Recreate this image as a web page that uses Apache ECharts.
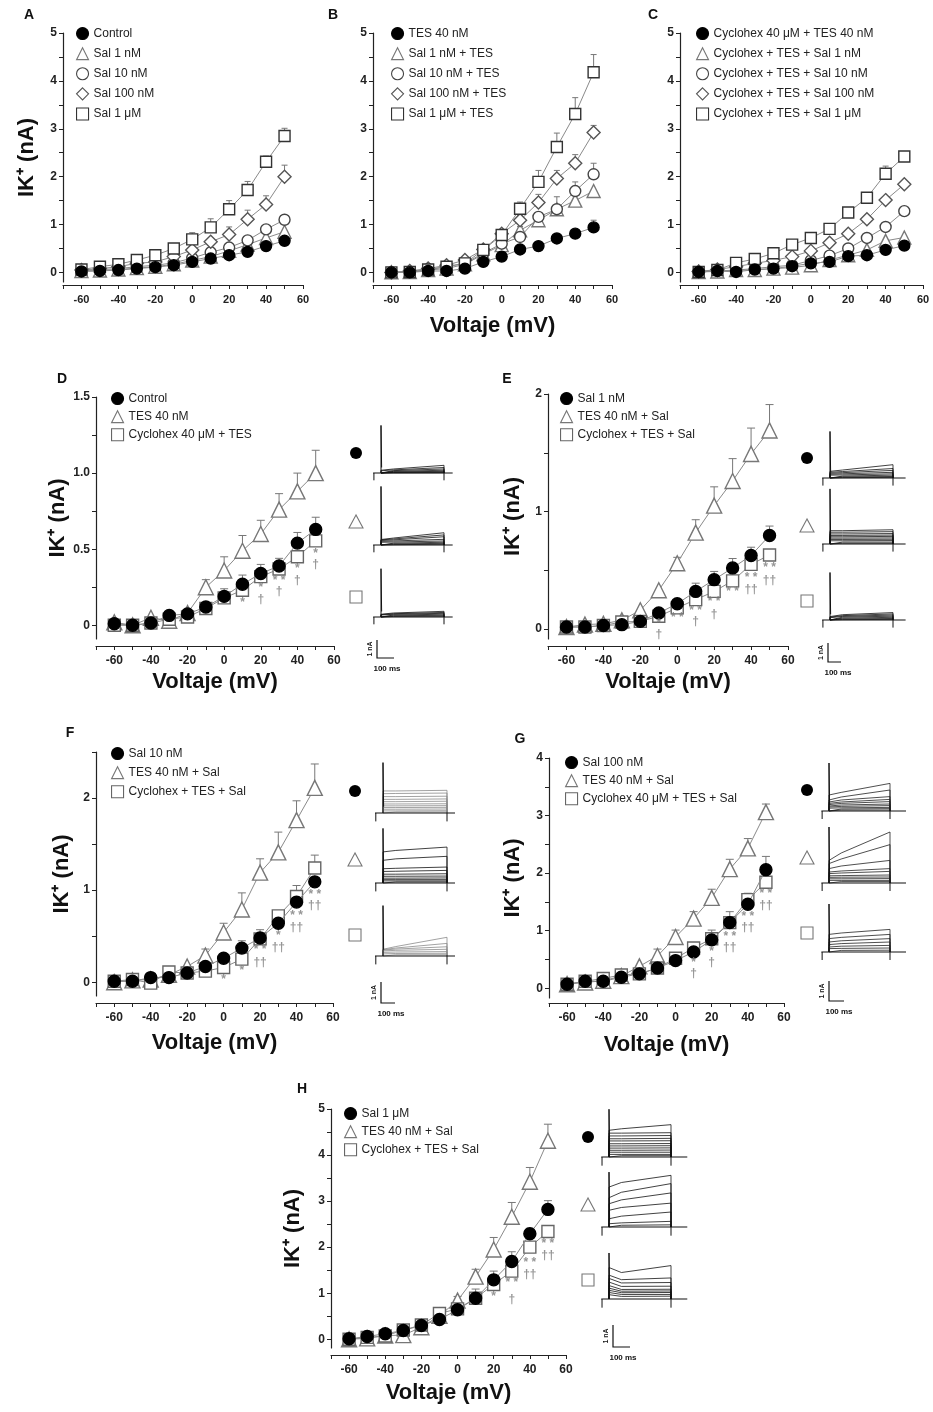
<!DOCTYPE html>
<html><head><meta charset="utf-8">
<script src="https://cdn.jsdelivr.net/npm/echarts@6/dist/echarts.min.js"></script>
<style>html,body{margin:0;padding:0;background:#fff}#c{width:933px;height:1412px}</style>
</head><body><div id="c"></div>
<script>
// ---------------- DATA ----------------
const VOLT = [-60,-50,-40,-30,-20,-10,0,10,20,30,40,50];
const X_TICKS = [-70,-60,-50,-40,-30,-20,-10,0,10,20,30,40,50,60];
const X_LABELS = [-60,-40,-20,0,20,40,60];

// Panel A
const A_control  = [0.02,0.03,0.05,0.08,0.11,0.15,0.22,0.29,0.36,0.43,0.55,0.66];
const A_sal1n    = [0.03,0.04,0.06,0.09,0.12,0.17,0.25,0.33,0.45,0.58,0.72,0.85];
const A_sal10n   = [0.04,0.06,0.08,0.12,0.15,0.20,0.30,0.42,0.52,0.67,0.90,1.10];
const A_sal100n  = [0.05,0.08,0.12,0.19,0.22,0.33,0.47,0.64,0.79,1.11,1.42,2.00];
const A_sal1u    = [0.06,0.12,0.17,0.26,0.36,0.50,0.69,0.94,1.32,1.72,2.31,2.85];
const A_err_sal100n = [0,0,0,0,0,0.04,0.05,0.06,0.16,0.19,0.18,0.24];
const A_err_sal1u   = [0,0,0,0,0.03,0.05,0.14,0.18,0.18,0.18,0.12,0.16];

// Panel B
const B_tes      = [0.00,0.00,0.03,0.03,0.08,0.22,0.33,0.48,0.55,0.71,0.81,0.94];
const B_sal1n    = [0.00,0.01,0.05,0.08,0.17,0.38,0.57,0.88,1.09,1.32,1.50,1.70];
const B_sal10n   = [0.00,0.01,0.06,0.12,0.19,0.40,0.60,0.74,1.16,1.32,1.70,2.05];
const B_sal100n  = [0.00,0.03,0.08,0.15,0.26,0.48,0.81,1.09,1.46,1.96,2.28,2.92];
const B_sal1u    = [0.00,0.01,0.06,0.12,0.19,0.47,0.78,1.33,1.89,2.62,3.31,4.18];
const B_err_tes     = [0,0,0,0,0,0,0,0,0,0,0,0.15];
const B_err_sal1n   = [0,0,0,0,0,0,0,0.08,0.1,0.26,0,0];
const B_err_sal10n  = [0,0,0,0,0,0,0,0,0,0,0.19,0.23];
const B_err_sal100n = [0,0,0,0,0,0,0,0.1,0.17,0.17,0.18,0.15];
const B_err_sal1u   = [0,0,0,0,0,0,0,0.14,0.24,0.29,0.34,0.37];

// Panel C
const C_ctes     = [0.01,0.03,0.01,0.06,0.08,0.13,0.19,0.22,0.34,0.36,0.47,0.56];
const C_sal1n    = [0.01,0.02,0.05,0.05,0.08,0.10,0.15,0.26,0.36,0.47,0.66,0.73];
const C_sal10n   = [0.01,0.03,0.05,0.08,0.12,0.15,0.25,0.35,0.50,0.72,0.95,1.28];
const C_sal100n  = [0.02,0.06,0.12,0.19,0.25,0.33,0.45,0.62,0.81,1.11,1.51,1.84];
const C_sal1u    = [0.01,0.05,0.20,0.28,0.40,0.58,0.72,0.91,1.25,1.56,2.06,2.42];
const C_err_sal1u = [0,0,0,0,0,0,0,0,0,0,0.16,0];

// Panel D
const D_control = [0.01,0.00,0.015,0.065,0.075,0.12,0.19,0.27,0.34,0.39,0.54,0.63];
const D_tes     = [0.02,0.00,0.05,0.03,0.08,0.25,0.36,0.49,0.60,0.76,0.88,1.00];
const D_cyc     = [0.00,0.00,0.015,0.04,0.055,0.11,0.18,0.23,0.32,0.37,0.45,0.555];
const D_err_control = [0,0,0,0,0,0.03,0.05,0.06,0.06,0.05,0.07,0.08];
const D_err_tes     = [0,0,0,0,0,0.05,0.09,0.10,0.09,0.105,0.12,0.15];
const D_ann = [[10,0.15,'*'],[20,0.245,'*'],[20,0.168,'†'],[30,0.294,'* *'],[30,0.218,'†'],[40,0.37,'*'],[40,0.29,'†'],[50,0.47,'*'],[50,0.40,'†']];

// Panel E
const E_sal = [0.017,0.017,0.03,0.037,0.065,0.136,0.215,0.32,0.42,0.52,0.626,0.796];
const E_tes = [0.017,0.037,0.045,0.074,0.16,0.33,0.56,0.82,1.05,1.26,1.49,1.69];
const E_cyc = [0.017,0.017,0.03,0.06,0.065,0.108,0.18,0.25,0.32,0.41,0.55,0.63];
const E_err_sal = [0,0,0,0,0,0,0,0.07,0.07,0.08,0.07,0.08];
const E_err_tes = [0,0,0,0,0,0,0.05,0.11,0.16,0.19,0.22,0.22];
const E_ann = [[-10,0.045,'*'],[-10,-0.048,'†'],[0,0.093,'* *'],[10,0.159,'* *'],[10,0.06,'†'],[20,0.23,'* *'],[20,0.12,'†'],[30,0.32,'* *'],[40,0.433,'* *'],[40,0.334,'††'],[50,0.518,'* *'],[50,0.414,'††']];

// Panel F
const F_sal = [0.01,0.01,0.05,0.05,0.10,0.17,0.26,0.37,0.48,0.64,0.87,1.09];
const F_tes = [0.00,0.02,0.03,0.08,0.17,0.29,0.54,0.79,1.19,1.41,1.76,2.11];
const F_cyc = [0.01,0.03,-0.01,0.11,0.10,0.12,0.16,0.25,0.47,0.72,0.93,1.24];
const F_err_sal = [0,0,0,0,0,0,0.05,0.08,0.09,0,0,0];
const F_err_tes = [0,0,0,0,0,0.07,0.10,0.18,0.15,0.22,0.21,0.26];
const F_err_cyc = [0,0,0,0,0,0,0,0,0,0,0.12,0.14];
const F_ann = [[0,0.03,'*'],[10,0.12,'*'],[20,0.35,'* *'],[20,0.21,'††'],[30,0.50,'*'],[30,0.373,'††'],[40,0.717,'* *'],[40,0.59,'††'],[50,0.953,'* *'],[50,0.826,'††']];

// Panel G
const G_sal = [0.07,0.12,0.12,0.19,0.25,0.35,0.48,0.63,0.84,1.14,1.46,2.06];
const G_tes = [0.07,0.10,0.13,0.21,0.38,0.56,0.89,1.21,1.57,2.07,2.43,3.06];
const G_cyc = [0.07,0.12,0.17,0.23,0.25,0.35,0.52,0.70,0.86,1.14,1.54,1.84];
const G_err_sal = [0,0,0,0,0,0,0,0.10,0.17,0.19,0.19,0.23];
const G_err_tes = [0,0,0,0,0,0.12,0.12,0.12,0.15,0.17,0.17,0.14];
const G_ann = [[10,0.435,'*'],[10,0.26,'†'],[20,0.626,'*'],[20,0.435,'†'],[30,0.887,'* *'],[30,0.696,'††'],[40,1.235,'* *'],[40,1.043,'††'],[50,1.64,'* *'],[50,1.44,'††']];

// Panel H
const H_sal = [0.01,0.06,0.12,0.19,0.30,0.43,0.64,0.89,1.29,1.69,2.29,2.82];
const H_tes = [0.00,0.02,0.08,0.09,0.26,0.51,0.84,1.36,1.95,2.66,3.42,4.31];
const H_cyc = [0.00,0.04,0.07,0.20,0.31,0.56,0.66,0.89,1.19,1.48,2.00,2.34];
const H_err_sal = [0,0,0,0,0,0,0,0.20,0.19,0.21,0.12,0.19];
const H_err_tes = [0,0,0,0,0,0,0.09,0.16,0.26,0.31,0.31,0.36];
const H_ann = [[20,0.926,'*'],[30,1.23,'* *'],[30,0.854,'†'],[40,1.67,'* *'],[40,1.40,'††'],[50,2.08,'* *'],[50,1.82,'††']];

// Current traces (nA) at times TRACE_T (ms): [start, early, end]
const TRACE_T = [0, 80, 400];
const D_SPIKE = [2.6, 3.2, 2.64];
const D1_tr = [[0.15,0.22,0.42],[0.12,0.17,0.30],[0.10,0.13,0.22],[0.07,0.09,0.15],[0.05,0.06,0.09],[0.03,0.03,0.05],[0.01,0.01,0.02]];
const D2_tr = [[0.30,0.38,0.67],[0.28,0.33,0.55],[0.25,0.28,0.45],[0.20,0.22,0.31],[0.15,0.16,0.22],[0.10,0.10,0.15],[0.06,0.06,0.09],[0.02,0.02,0.04]];
const D3_tr = [[0.15,0.22,0.31],[0.13,0.18,0.25],[0.11,0.15,0.20],[0.09,0.11,0.15],[0.06,0.07,0.09],[0.03,0.03,0.04]];
const E_SPIKE = [2.45, 2.9, 2.5];
const E1_tr = [[0.35,0.42,0.70],[0.30,0.34,0.50],[0.25,0.28,0.40],[0.20,0.22,0.30],[0.15,0.16,0.22],[0.10,0.10,0.15],[0.06,0.06,0.08],[0.02,0.02,0.03]];
const E2_tr = [[0.70,0.70,0.75],[0.62,0.62,0.65],[0.53,0.53,0.55],[0.45,0.45,0.47],[0.38,0.38,0.40],[0.31,0.31,0.32],[0.24,0.24,0.25],[0.17,0.17,0.18],[0.10,0.10,0.10],[0.04,0.04,0.04]];
const E3_tr = [[0.18,0.28,0.39],[0.15,0.23,0.32],[0.12,0.19,0.26],[0.10,0.15,0.20],[0.07,0.10,0.14],[0.04,0.06,0.08],[0.02,0.02,0.03]];
const F_SPIKE = [2.4, 2.6, 2.4];
const F1_tr = [[1.05,1.05,1.08],[0.92,0.93,0.95],[0.78,0.78,0.80],[0.65,0.65,0.67],[0.54,0.54,0.56],[0.43,0.43,0.44],[0.34,0.34,0.35],[0.26,0.26,0.27],[0.18,0.18,0.19],[0.10,0.10,0.11],[0.05,0.05,0.05]];
const F2_tr = [[1.48,1.55,1.71],[1.08,1.15,1.27],[0.68,0.70,0.76],[0.55,0.56,0.60],[0.42,0.42,0.44],[0.32,0.32,0.33],[0.23,0.23,0.24],[0.16,0.16,0.16],[0.10,0.10,0.10],[0.05,0.05,0.05]];
const F3_tr = [[0.32,0.45,0.89],[0.30,0.38,0.60],[0.28,0.33,0.44],[0.24,0.27,0.32],[0.17,0.19,0.21],[0.10,0.12,0.13],[0.05,0.06,0.06]];
const G_SPIKE = [2.4, 2.8, 2.4];
const G1_tr = [[0.80,0.93,1.38],[0.55,0.70,1.05],[0.45,0.55,0.72],[0.38,0.45,0.58],[0.32,0.38,0.47],[0.25,0.30,0.35],[0.20,0.23,0.27],[0.14,0.16,0.18],[0.09,0.10,0.12],[0.04,0.05,0.05]];
const G2_tr = [[1.13,1.50,2.55],[0.97,1.20,1.92],[0.72,0.85,1.13],[0.55,0.60,0.72],[0.47,0.50,0.58],[0.36,0.37,0.40],[0.28,0.29,0.30],[0.21,0.21,0.22],[0.13,0.13,0.13],[0.07,0.07,0.07]];
const G3_tr = [[0.88,0.95,1.13],[0.67,0.73,0.88],[0.50,0.56,0.67],[0.37,0.42,0.50],[0.25,0.29,0.33],[0.17,0.18,0.20],[0.08,0.08,0.09]];
const H_SPIKE = [2.2, 2.53, 2.12];
const H1_tr = [[1.23,1.30,1.49],[1.10,1.10,1.12],[0.97,0.97,0.99],[0.84,0.84,0.86],[0.74,0.74,0.75],[0.61,0.61,0.62],[0.51,0.51,0.52],[0.41,0.41,0.42],[0.31,0.31,0.32],[0.22,0.22,0.22],[0.12,0.12,0.12],[0.06,0.06,0.06]];
const H2_tr = [[1.84,2.05,2.38],[1.35,1.60,2.00],[1.07,1.25,1.57],[0.77,0.90,1.10],[0.38,0.50,0.69],[0.15,0.19,0.26],[0.08,0.08,0.10]];
const H3_tr = [[1.45,1.22,1.54],[1.10,0.89,0.97],[0.95,0.74,0.76],[0.78,0.58,0.59],[0.62,0.44,0.45],[0.50,0.36,0.37],[0.40,0.29,0.30],[0.30,0.21,0.21],[0.20,0.12,0.13]];

// ---------------- STYLE / LAYOUT ----------------
const FONT = 'Arial, "Liberation Sans", Helvetica, sans-serif';
const LINE_C = '#8a8a8a';
const SYM_SMALL = {
  filled:{symbol:'circle',size:11,fill:'#000',stroke:'#000'},
  tri:{symbol:'triangle',size:13,fill:'#fff',stroke:'#777'},
  circ:{symbol:'circle',size:11,fill:'#fff',stroke:'#444'},
  dia:{symbol:'diamond',size:13,fill:'#fff',stroke:'#555'},
  sq:{symbol:'rect',size:11,fill:'#fff',stroke:'#333'}
};
const SYM_BIG = {
  filled:{symbol:'circle',size:12,fill:'#000',stroke:'#000'},
  tri:{symbol:'triangle',size:15,fill:'#fff',stroke:'#777'},
  sq:{symbol:'rect',size:12,fill:'#fff',stroke:'#666'}
};
const halfSteps = (max) => { const a=[]; for(let v=0; v<=max+1e-9; v+=0.5) a.push(+v.toFixed(2)); return a; };
const ints = (max) => { const a=[]; for(let v=0; v<=max; v++) a.push(v); return a; };

const PANELS = [
  {key:'A', grid:{left:63,top:33,width:240,height:249}, ymin:-0.2, ymax:5, yt:halfSteps(5), yl:ints(5), xOff:3, small:true,
   legend:{left:76,top:27,gap:7}, yName:true, yGap:25,
   series:[['Control',A_control,'filled',null],['Sal 1 nM',A_sal1n,'tri',null],['Sal 10 nM',A_sal10n,'circ',null],['Sal 100 nM',A_sal100n,'dia',A_err_sal100n],['Sal 1 μM',A_sal1u,'sq',A_err_sal1u]]},
  {key:'B', grid:{left:373,top:33,width:239,height:249}, ymin:-0.2, ymax:5, yt:halfSteps(5), yl:ints(5), xOff:3, small:true,
   legend:{left:391,top:27,gap:7}, xName:true, xGap:30,
   series:[['TES 40 nM',B_tes,'filled',B_err_tes],['Sal 1 nM + TES',B_sal1n,'tri',B_err_sal1n],['Sal 10 nM + TES',B_sal10n,'circ',B_err_sal10n],['Sal 100 nM + TES',B_sal100n,'dia',B_err_sal100n],['Sal 1 μM + TES',B_sal1u,'sq',B_err_sal1u]]},
  {key:'C', grid:{left:680,top:33,width:243,height:249}, ymin:-0.2, ymax:5, yt:halfSteps(5), yl:ints(5), xOff:3, small:true,
   legend:{left:696,top:27,gap:7},
   series:[['Cyclohex 40 μM + TES 40 nM',C_ctes,'filled',null],['Cyclohex + TES + Sal 1 nM',C_sal1n,'tri',null],['Cyclohex + TES + Sal 10 nM',C_sal10n,'circ',null],['Cyclohex + TES + Sal 100 nM',C_sal100n,'dia',null],['Cyclohex + TES + Sal 1 μM',C_sal1u,'sq',C_err_sal1u]]},
  {key:'D', grid:{left:96,top:397,width:238,height:242}, ymin:-0.09, ymax:1.5, yt:[0,0.25,0.5,0.75,1,1.25,1.5], yl:[0,0.5,1,1.5], dec:true, xOff:7,
   legend:{left:111,top:392,gap:5}, yName:true, yGap:23, xName:true, xGap:25, ann:D_ann,
   series:[['Control',D_control,'filled',D_err_control],['TES 40 nM',D_tes,'tri',D_err_tes],['Cyclohex 40 μM + TES',D_cyc,'sq',null]]},
  {key:'E', grid:{left:548,top:394,width:240,height:245}, ymin:-0.085, ymax:2, yt:halfSteps(2), yl:ints(2), xOff:7,
   legend:{left:560,top:392,gap:5}, yName:true, yGap:24, xName:true, xGap:25, ann:E_ann,
   series:[['Sal 1 nM',E_sal,'filled',E_err_sal],['TES 40 nM + Sal',E_tes,'tri',E_err_tes],['Cyclohex + TES + Sal',E_cyc,'sq',null]]},
  {key:'F', grid:{left:96,top:752,width:237,height:244}, ymin:-0.15, ymax:2.5, yt:halfSteps(2.5), yl:ints(2), xOff:7,
   legend:{left:111,top:747,gap:6}, yName:true, yGap:23, xName:true, xGap:29, ann:F_ann,
   series:[['Sal 10 nM',F_sal,'filled',F_err_sal],['TES 40 nM + Sal',F_tes,'tri',F_err_tes],['Cyclohex + TES + Sal',F_cyc,'sq',F_err_cyc]]},
  {key:'G', grid:{left:549,top:758,width:235,height:240}, ymin:-0.17, ymax:4, yt:halfSteps(4), yl:ints(4), xOff:5,
   legend:{left:565,top:756,gap:5}, yName:true, yGap:25, xName:true, xGap:31, ann:G_ann,
   series:[['Sal 100 nM',G_sal,'filled',G_err_sal],['TES 40 nM + Sal',G_tes,'tri',G_err_tes],['Cyclohex 40 μM + TES + Sal',G_cyc,'sq',null]]},
  {key:'H', grid:{left:331,top:1109,width:235,height:239}, ymin:-0.19, ymax:5, yt:halfSteps(5), yl:ints(5), xOff:7,
   legend:{left:344,top:1107,gap:5}, yName:true, yGap:27, xName:true, xGap:27, ann:H_ann,
   series:[['Sal 1 μM',H_sal,'filled',H_err_sal],['TES 40 nM + Sal',H_tes,'tri',H_err_tes],['Cyclohex + TES + Sal',H_cyc,'sq',null]]}
];

const INSETS = [
  {key:'D', x0:381, x1:444, ppn:18.3, bases:[473,545,617], end:455, tr:[D1_tr,D2_tr,D3_tr], spike:D_SPIKE, colors:['#111','#111','#111'],
   sym:{x:356, ys:[453,522,597]}, bar:{x:377,y:658,h:18,w:17}},
  {key:'E', x0:830, x1:893, ppn:19, bases:[478,544,620], end:480, tr:[E1_tr,E2_tr,E3_tr], spike:E_SPIKE, colors:['#111','#111','#111'],
   sym:{x:807, ys:[458,526,601]}, bar:{x:828,y:662,h:19,w:13}},
  {key:'F', x0:383, x1:447, ppn:21, bases:[813,883,956], end:450, tr:[F1_tr,F2_tr,F3_tr], spike:F_SPIKE, colors:['#8a8a8a','#111','#8a8a8a'],
   sym:{x:355, ys:[791,860,935]}, bar:{x:381,y:1003,h:21,w:14}},
  {key:'G', x0:829, x1:890, ppn:20, bases:[811,883,952], end:505, tr:[G1_tr,G2_tr,G3_tr], spike:G_SPIKE, colors:['#222','#222','#222'],
   sym:{x:807, ys:[790,858,933]}, bar:{x:829,y:1001,h:20,w:15}},
  {key:'H', x0:609, x1:671, ppn:21.7, bases:[1157,1227,1299], end:505, tr:[H1_tr,H2_tr,H3_tr], spike:H_SPIKE, colors:['#111','#111','#111'],
   sym:{x:588, ys:[1137,1205,1280]}, bar:{x:613,y:1347,h:22,w:17}}
];
const LETTERS = [['A',29,15],['B',333,15],['C',653,15],['D',62,379],['E',507,379],['F',70,733],['G',520,739],['H',302,1089]];

// ---------------- BUILD ----------------
const grids=[], xAxes=[], yAxes=[], series=[], legends=[], graphics=[];
const axisTxt = {fontFamily:FONT, fontWeight:'bold', color:'#222'};

PANELS.forEach((p) => {
  const gi = grids.length;
  grids.push(Object.assign({containLabel:false}, p.grid));
  const fs = p.small ? 11 : 12;
  xAxes.push({type:'value', gridIndex:gi, min:-70, max:60, offset:p.xOff, position:'bottom',
    axisLine:{show:true, onZero:false, lineStyle:{color:'#222', width:1.2}},
    axisTick:{show:true, length:4, customValues:X_TICKS, lineStyle:{color:'#222'}},
    axisLabel:{show:true, customValues:X_LABELS, margin:9, fontSize:fs, ...axisTxt},
    splitLine:{show:false},
    name: p.xName ? 'Voltaje (mV)' : '', nameLocation:'middle', nameGap:p.xGap||30,
    nameTextStyle:{fontSize:22, fontWeight:'bold', fontFamily:FONT, color:'#111'}
  });
  yAxes.push({type:'value', gridIndex:gi, min:p.ymin, max:p.ymax, position:'left',
    axisLine:{show:true, onZero:false, lineStyle:{color:'#222', width:1.2}},
    axisTick:{show:true, length:4, customValues:p.yt, lineStyle:{color:'#222'}},
    axisLabel:{show:true, customValues:p.yl, margin:6, fontSize:12, ...axisTxt,
      formatter: v => p.dec ? (v===0 ? '0' : v.toFixed(1)) : String(v)},
    splitLine:{show:false},
    name: p.yName ? 'IK⁺ (nA)' : '', nameLocation:'middle', nameGap:p.yGap||25, nameRotate:90,
    nameTextStyle:{fontSize:22, fontWeight:'bold', fontFamily:FONT, color:'#111'}
  });
  const SY = p.small ? SYM_SMALL : SYM_BIG;
  const legendData = [];
  const order = p.series.map((s,i)=>i).sort((a,b)=> (p.series[a][2]==='filled') - (p.series[b][2]==='filled'));
  p.series.forEach((s) => {
    const [name, vals, sk] = s; const st = SY[sk];
    legendData.push({name:p.key+'|'+name, icon: st.symbol,
      itemStyle:{color:st.fill, borderColor:st.stroke, borderWidth:1.1}});
  });
  order.forEach((i, k) => {
    const [name, vals, sk, err] = p.series[i]; const st = SY[sk];
    if (err) {
      series.push({type:'custom', xAxisIndex:gi, yAxisIndex:gi, silent:true, z:1,
        data: VOLT.map((v,j)=>[v, vals[j], err[j]]).filter(d=>d[2]>0),
        renderItem:(params, api) => {
          const x=api.value(0), y=api.value(1), e=api.value(2);
          const p0=api.coord([x,y]), p1=api.coord([x,y+e]); const cw = p.small?3:4;
          return {type:'group', children:[
            {type:'line', shape:{x1:p0[0],y1:p0[1],x2:p1[0],y2:p1[1]}, style:{stroke:'#777', lineWidth:1}},
            {type:'line', shape:{x1:p1[0]-cw,y1:p1[1],x2:p1[0]+cw,y2:p1[1]}, style:{stroke:'#777', lineWidth:1}}]};
        }});
    }
    series.push({type:'line', name:p.key+'|'+name, xAxisIndex:gi, yAxisIndex:gi, z:2+k,
      data: VOLT.map((v,j)=>[v, vals[j]]), symbol:st.symbol, symbolSize:st.size, showAllSymbol:true,
      itemStyle:{color:st.fill, borderColor:st.stroke, borderWidth:1.4},
      lineStyle:{color:LINE_C, width:1}, emphasis:{disabled:true}, silent:true});
  });
  if (p.ann) {
    series.push({type:'scatter', xAxisIndex:gi, yAxisIndex:gi, z:10, silent:true, symbolSize:1,
      itemStyle:{color:'rgba(0,0,0,0)'}, data:p.ann.map(a=>[a[0],a[1],a[2]]),
      label:{show:true, position:'inside', formatter: q => q.value[2], color:'#7a7a7a', fontSize:12, fontWeight:'bold', fontFamily:FONT}});
  }
  legends.push({show:true, data:legendData, orient:'vertical', left:p.legend.left, top:p.legend.top,
    itemWidth:12, itemHeight:12, itemGap:p.legend.gap, padding:0, selectedMode:false,
    formatter: n => n.split('|')[1],
    textStyle:{fontFamily:FONT, fontSize:12, color:'#222'}});
});

// Trace insets
INSETS.forEach((ins) => {
  const msPerPx = 400/(ins.x1-ins.x0);
  const left = ins.x0 - 50/msPerPx, width = 560/msPerPx;
  const YMAX = 3.4, YMIN = -0.5;
  ins.bases.forEach((base, k) => {
    const gi = grids.length;
    grids.push({left:left, width:width, top: base - YMAX*ins.ppn, height:(YMAX-YMIN)*ins.ppn, containLabel:false});
    xAxes.push({type:'value', gridIndex:gi, min:-50, max:510, show:false});
    yAxes.push({type:'value', gridIndex:gi, min:YMIN, max:YMAX, show:false});
    const common = {type:'line', xAxisIndex:gi, yAxisIndex:gi, symbol:'none', silent:true, animation:false};
    const col = ins.colors[k];
    ins.tr[k].forEach(tr => {
      series.push(Object.assign({}, common, {data:[[0,0],[TRACE_T[0],tr[0]],[TRACE_T[1],tr[1]],[TRACE_T[2],tr[2]],[400,0]],
        lineStyle:{color:col, width:0.8}}));
    });
    series.push(Object.assign({}, common, {data:[[-50,0],[ins.end,0]], lineStyle:{color:'#111', width:1.1}}));
    series.push(Object.assign({}, common, {data:[[-45,0],[-45,-0.4]], lineStyle:{color:'#111', width:1}}));
    series.push(Object.assign({}, common, {data:[[400,0],[400,-0.4]], lineStyle:{color:'#111', width:1}}));
    series.push(Object.assign({}, common, {data:[[0,0],[0,ins.spike[k]],[4,0.3]], lineStyle:{color:'#111', width:1}}));
  });
  const s = ins.sym;
  graphics.push({type:'circle', shape:{cx:s.x, cy:s.ys[0], r:6}, style:{fill:'#000'}});
  graphics.push({type:'polygon', shape:{points:[[s.x,s.ys[1]-7],[s.x-7,s.ys[1]+6],[s.x+7,s.ys[1]+6]]}, style:{fill:'#fff', stroke:'#777', lineWidth:1.1}});
  graphics.push({type:'rect', shape:{x:s.x-6, y:s.ys[2]-6, width:12, height:12}, style:{fill:'#fff', stroke:'#777', lineWidth:1.1}});
  const b = ins.bar;
  graphics.push({type:'polyline', shape:{points:[[b.x,b.y-b.h],[b.x,b.y],[b.x+b.w,b.y]]}, style:{stroke:'#111', lineWidth:1.2, fill:null}});
  graphics.push({type:'text', x:b.x-7, y:b.y-b.h/2, rotation:Math.PI/2, style:{text:'1 nA', font:'bold 7px '+FONT, fill:'#111', align:'center', verticalAlign:'middle'}});
  graphics.push({type:'text', x:b.x+10, y:b.y+11, style:{text:'100 ms', font:'bold 8px '+FONT, fill:'#111', align:'center', verticalAlign:'middle'}});
});

LETTERS.forEach(([t,x,y]) => graphics.push({type:'text', x:x, y:y, style:{text:t, font:'bold 14px '+FONT, fill:'#111', align:'center', verticalAlign:'middle'}}));

const chart = echarts.init(document.getElementById('c'), null, {renderer:'canvas'});
chart.setOption({
  backgroundColor:'#fff', animation:false,
  grid:grids, xAxis:xAxes, yAxis:yAxes, series:series, legend:legends, graphic:graphics
});
</script></body></html>
